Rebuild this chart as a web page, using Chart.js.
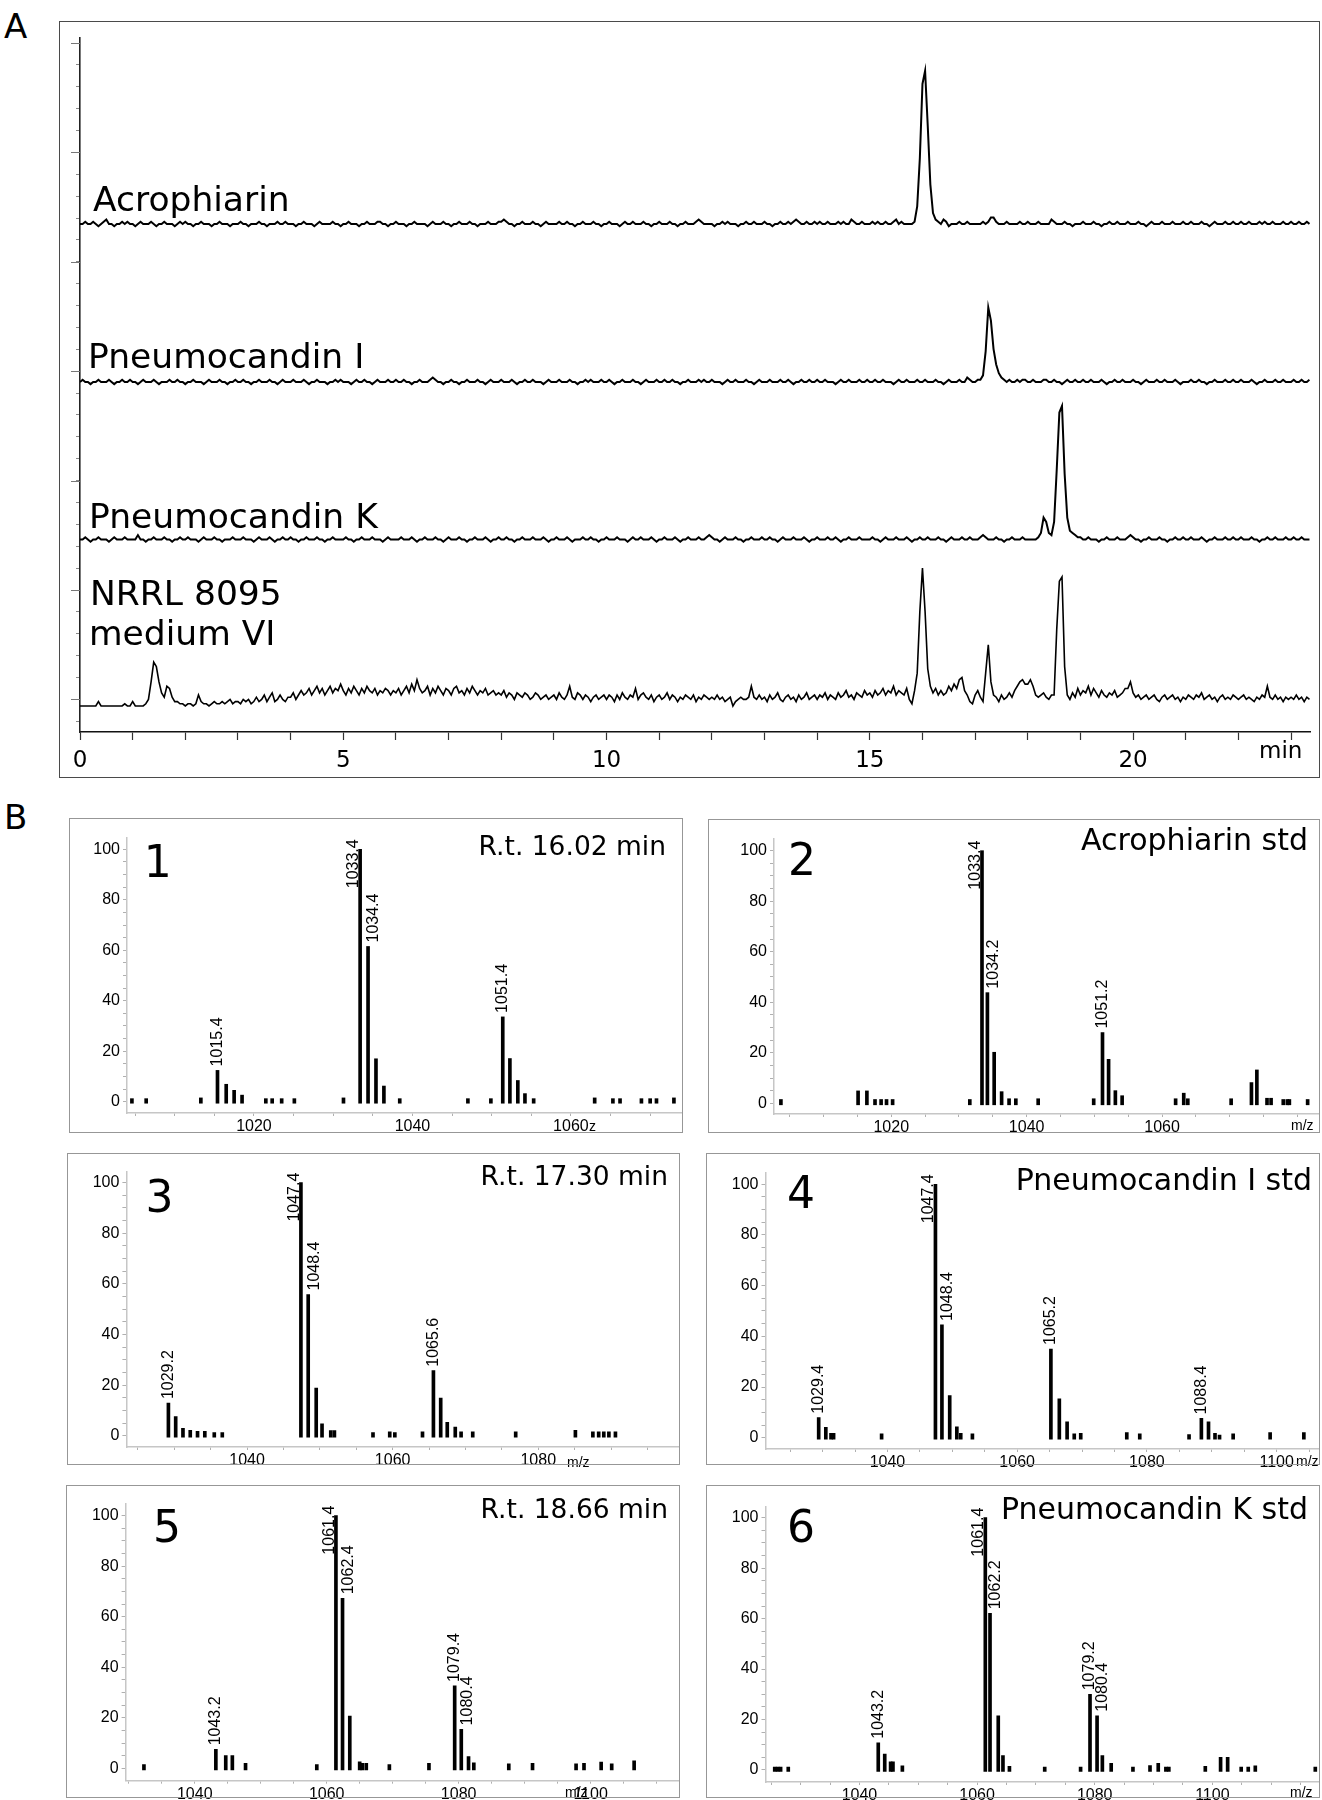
<!DOCTYPE html>
<html>
<head>
<meta charset="utf-8">
<script src="https://cdn.jsdelivr.net/npm/chart.js@4.4.1/dist/chart.umd.min.js"></script>
<style>
  html, body { margin: 0; padding: 0; background: #fff; }
  body { width: 1322px; height: 1800px; position: relative; overflow: hidden; font-family: "DejaVu Sans", sans-serif; }
  canvas { position: absolute; }
  .box { position: absolute; box-sizing: border-box; pointer-events: none; }
  .tag { position: absolute; font-size: 34px; line-height: 34px; color: #000; }
</style>
</head>
<body>
<div class="tag" style="left:4px;top:9px">A</div>
<div class="tag" style="left:4px;top:800px">B</div>

<script>
// ---------------- A: chromatograms (signal sampled every 0.05 min) ----------------
const timeStep = 0.05;

const acrophiarinTrace = [
  0,0,1,0,0,1,0,-1,0,1,2,0,0,-1,0,0,1,0,1,0,
  0,-1,0,1,0,0,0,1,0,-1,0,0,1,0,0,0,-1,0,1,0,
  1,0,0,-1,0,0,1,0,0,0,-1,0,0,1,0,0,0,-1,0,0,
  0,1,0,0,-1,0,0,0,1,0,0,-1,0,0,0,1,0,0,1,0,
  0,0,-1,0,0,1,0,0,0,-1,0,1,0,0,0,0,1,0,0,-1,
  0,0,1,0,0,0,-1,0,0,1,0,0,0,1,1,0,0,-1,0,0,
  1,0,0,0,-1,0,0,1,0,0,0,0,-1,0,1,0,0,0,1,0,
  0,-1,0,0,1,0,0,0,1,0,0,-1,0,0,0,1,0,0,0,1,
  1,2,1,0,0,-1,0,0,1,0,0,0,1,0,0,-1,0,1,0,0,
  0,0,1,0,0,1,0,0,-1,0,0,1,0,0,0,1,0,0,-1,0,
  0,1,0,0,0,-1,0,1,0,0,1,0,0,0,1,0,0,-1,0,0,
  1,0,0,0,1,0,0,-1,0,0,1,0,0,0,1,2,1,0,0,0,
  0,-1,0,0,1,0,1,0,0,0,-1,0,0,1,0,0,1,0,0,0,
  1,0,0,-1,0,0,1,0,0,1,0,1,2,1,0,0,1,0,0,1,
  0,1,0,0,1,0,0,0,1,0,1,0,0,2,1,0,0,1,0,0,
  0,1,0,1,0,0,1,0,0,1,2,0,1,0,0,0,0,1,8,30,
  64,70,45,18,5,2,1,0,2,1,-1,0,0,0,1,0,0,1,0,0,
  0,0,0,1,0,1,3,3,1,0,0,0,1,0,0,0,0,1,0,0,
  1,0,0,0,1,0,0,0,0,2,1,0,0,0,1,0,0,-1,0,0,
  0,1,0,0,0,1,0,0,-1,0,0,1,0,0,1,0,0,0,1,0,
  0,0,1,0,0,-1,0,1,0,0,0,1,0,0,0,1,0,0,0,1,
  0,0,1,0,0,0,1,0,0,-1,0,1,0,0,0,1,0,0,1,0,
  0,1,0,0,1,0,0,0,1,0,1,0,0,1,0,0,0,1,0,0,
  1,0,0,1,0,0,1,0
];

const pneumocandinITrace = [
  0,1,0,0,-1,0,0,1,0,0,0,1,0,-1,0,0,1,0,0,1,
  0,0,-1,0,1,0,0,0,1,0,-1,0,0,0,1,0,0,1,0,0,
  -1,0,0,1,0,0,0,-1,0,1,0,0,0,1,0,0,-1,0,0,1,
  0,0,1,0,0,-1,0,0,1,0,0,0,1,0,0,-1,0,1,0,0,
  0,1,0,0,0,1,0,-1,0,0,1,0,0,0,-1,0,0,1,0,1,
  0,0,0,-1,0,1,0,0,1,0,0,-1,0,1,0,0,0,1,0,0,
  1,0,0,1,0,0,-1,0,0,1,0,0,0,1,2,1,0,0,-1,0,
  0,1,0,0,-1,0,0,1,0,0,0,1,0,0,-1,0,1,0,0,0,
  1,0,0,0,1,0,-1,0,0,1,0,0,1,0,0,0,-1,0,1,0,
  0,0,1,0,0,0,1,0,0,-1,0,0,1,0,1,0,0,0,1,0,
  0,1,0,-1,0,0,1,0,0,0,1,0,0,-1,0,1,0,0,0,1,
  0,0,1,0,0,1,0,0,-1,0,0,1,0,0,0,1,0,1,0,0,
  1,0,0,0,-1,0,1,0,0,1,0,0,0,1,0,0,-1,0,1,0,
  0,0,1,0,0,0,1,0,0,1,0,-1,0,0,1,0,0,1,0,0,
  1,0,0,1,0,0,0,-1,0,1,0,0,1,0,0,0,1,0,0,1,
  0,0,1,0,0,1,0,0,0,-1,0,1,0,0,1,0,0,0,1,0,
  0,1,0,0,0,1,0,0,-1,0,1,0,0,0,1,0,0,2,1,0,
  0,1,1,3,14,34,28,15,8,4,2,1,0,1,0,0,1,0,1,1,
  0,0,1,0,0,0,1,1,0,0,1,0,0,-1,0,1,0,0,1,0,
  0,1,0,0,1,0,0,0,1,0,-1,0,0,1,0,0,1,0,0,0,
  1,0,0,-1,0,1,0,0,0,1,0,0,1,0,0,0,1,0,-1,0,
  0,0,1,0,0,1,0,0,-1,0,0,1,0,0,0,1,0,0,1,0,
  0,1,0,0,0,1,0,-1,0,0,1,0,0,0,1,0,0,1,0,0,
  0,1,0,0,1,0,0,1
];

const pneumocandinKTrace = [
  0,0,1,0,-1,0,0,1,0,0,0,-1,0,1,0,0,0,1,0,0,
  0,0,2,0,0,-1,0,0,1,0,0,0,1,0,0,-1,0,0,1,0,
  0,1,0,0,0,-1,0,1,0,0,0,1,0,0,-1,0,0,0,1,0,
  0,0,1,0,0,0,-1,0,1,0,0,0,1,0,-1,0,0,1,0,0,
  1,0,0,-1,0,0,1,0,0,0,1,0,0,-1,0,0,1,0,0,0,
  0,1,0,0,-1,0,0,1,0,0,0,1,0,0,0,-1,0,1,0,0,
  0,0,1,0,0,0,1,0,-1,0,0,1,0,0,0,1,0,0,-1,0,
  1,0,0,0,1,0,0,-1,0,0,1,0,0,0,1,0,-1,0,0,1,
  0,0,1,0,0,-1,0,0,1,0,0,0,1,0,0,0,1,0,-1,0,
  0,1,0,0,0,1,0,-1,0,0,0,1,0,0,1,0,0,-1,0,0,
  1,0,0,0,1,0,0,0,-1,0,1,0,0,1,0,0,0,1,0,-1,
  0,0,1,0,0,0,1,0,-1,0,0,1,0,0,0,1,0,0,1,2,
  1,0,0,-1,0,1,0,0,0,1,0,0,-1,0,0,1,0,0,0,1,
  0,0,1,0,0,-1,0,1,0,0,0,1,0,0,0,1,0,-1,0,0,
  1,0,0,0,1,0,0,1,0,-1,0,0,1,0,0,0,1,0,0,0,
  0,1,0,0,-1,0,1,0,0,0,1,0,0,0,1,0,-1,0,0,1,
  0,0,1,0,0,0,1,0,0,-1,0,1,0,0,0,1,0,0,1,0,
  0,0,1,2,1,0,0,0,1,0,0,-1,0,0,1,0,0,0,1,0,
  0,0,0,0,1,3,10,8,3,2,8,32,58,61,30,10,4,3,2,1,
  1,0,0,1,0,0,0,-1,0,0,1,0,0,0,1,0,0,0,1,2,
  1,0,0,-1,0,0,1,0,0,0,1,0,0,-1,0,0,1,0,0,1,
  0,0,1,0,0,0,1,0,-1,0,0,1,0,0,0,1,0,0,1,0,
  0,1,0,0,0,1,0,0,-1,0,0,1,0,0,1,0,0,0,1,0,
  0,1,0,0,1,0,0,0
];

const nrrlTrace = [
  7,7,7,7,7,7,7,9,7,7,7,7,7,7,7,7,7,8,7,7,
  9,7,7,7,7,8,10,18,27,25,18,13,11,16,15,11,9,9,8,8,
  7,8,8,7,8,12,9,8,8,7,8,9,8,8,9,8,9,10,8,9,
  9,8,10,9,10,8,9,11,9,10,12,9,11,13,9,10,12,10,9,11,
  11,13,10,12,14,12,13,15,12,14,16,13,15,12,14,16,13,15,14,17,
  14,12,15,13,16,14,12,15,13,16,14,13,15,12,14,13,15,14,12,14,
  13,15,12,14,16,13,17,14,19,15,13,14,16,12,15,13,16,14,12,15,
  14,12,15,16,13,14,12,15,13,16,14,12,14,13,15,12,13,14,12,13,
  12,14,11,13,12,10,13,12,11,13,12,10,11,13,12,10,11,12,10,11,
  12,10,13,11,10,12,16,11,10,13,12,10,12,11,9,11,12,10,11,12,
  10,12,11,9,12,10,13,11,10,12,11,15,10,12,13,11,10,12,9,11,
  12,10,11,13,10,12,11,9,11,10,12,11,10,12,9,11,10,12,11,10,
  11,10,12,10,11,9,10,11,7,9,10,11,10,10,11,16,11,10,12,10,
  11,9,12,10,11,13,10,9,11,12,10,11,9,12,10,11,13,10,11,12,
  10,12,11,13,10,12,11,10,13,11,12,14,11,12,10,13,12,11,14,12,
  13,11,14,12,13,15,12,14,13,16,12,14,13,12,15,10,8,14,22,50,
  70,50,24,16,13,15,12,14,12,13,16,14,17,15,19,20,14,12,9,8,
  12,14,11,9,22,35,18,12,11,9,12,10,11,13,11,14,16,18,19,17,
  17,19,16,12,11,12,13,11,10,12,12,42,64,66,25,12,10,13,11,15,
  12,14,13,16,12,15,13,11,14,12,11,13,12,14,11,12,13,15,15,18,
  13,11,12,10,11,12,10,11,12,10,9,11,12,10,11,12,10,11,9,11,
  10,12,11,10,12,11,13,10,11,12,10,11,9,11,12,10,11,10,12,11,
  10,11,12,10,11,10,9,11,10,12,11,16,11,10,12,10,11,9,11,10,
  11,10,12,10,11,9,11,10
];

const traceNames = ['Acrophiarin', 'Pneumocandin I', 'Pneumocandin K', 'NRRL 8095', 'medium VI'];
const timeLabels = [0, 5, 10, 15, 20];
const chromoMajorTicks = [10, 60, 110, 160, 210, 260, 310];

// ---------------- B: mass spectra ----------------
const spec1Mz = [1004.6, 1006.4, 1013.3, 1015.4, 1016.5, 1017.5, 1018.5, 1021.5, 1022.3, 1023.5, 1025.1, 1031.3,
  1033.4, 1034.4, 1035.4, 1036.4, 1038.4, 1047.0, 1049.9, 1051.4, 1052.3, 1053.3, 1054.2, 1055.3,
  1063.0, 1065.3, 1066.2, 1068.9, 1070.0, 1070.8, 1073.0];
const spec1Int = [1.2, 1.2, 1.5, 12.4, 6.9, 4.5, 2.6, 1.2, 1.2, 1.2, 1.2, 1.5,
  100, 61.5, 17, 6.2, 1.2, 1.2, 1.2, 33.6, 17.1, 8.4, 3.2, 1.2,
  1.5, 1.2, 1.2, 1.2, 1.2, 1.2, 1.5];
const spec1Peaks = [1015.4, 1033.4, 1034.4, 1051.4];

const spec2Mz = [1003.7, 1015.1, 1016.4, 1017.6, 1018.5, 1019.3, 1020.2, 1031.6, 1033.4, 1034.2, 1035.2, 1036.3,
  1037.4, 1038.4, 1041.7, 1049.9, 1051.2, 1052.1, 1053.1, 1054.1, 1062.0, 1063.2, 1063.8, 1070.2,
  1073.2, 1074.0, 1075.5, 1076.1, 1077.9, 1078.5, 1078.8, 1081.5];
const spec2Int = [1.5, 4.9, 4.9, 1.5, 1.5, 1.5, 1.5, 1.5, 100, 43.8, 20.2, 4.6,
  1.8, 1.8, 1.8, 1.8, 28, 17.4, 5, 3, 1.8, 4, 1.8, 1.8,
  8.2, 13.2, 2, 2, 1.5, 1.5, 1.5, 1.5];
const spec2Peaks = [1033.4, 1034.2, 1051.2];

const spec3Mz = [1029.2, 1030.2, 1031.2, 1032.2, 1033.2, 1034.2, 1035.5, 1036.6, 1047.4, 1048.4, 1049.5, 1050.3,
  1051.5, 1052.0, 1057.3, 1059.6, 1060.3, 1064.1, 1065.6, 1066.6, 1067.5, 1068.6, 1069.4, 1071.0,
  1076.9, 1085.1, 1087.5, 1088.3, 1089.0, 1089.7, 1090.6];
const spec3Int = [12.9, 7.6, 2.9, 2.1, 1.7, 1.7, 1.2, 1.2, 100, 55.8, 18.8, 4.7,
  2, 2, 1.2, 1.5, 1.2, 1.5, 25.7, 14.9, 5.3, 3.4, 1.5, 1.5,
  1.5, 2.1, 1.5, 1.5, 1.5, 1.5, 1.5];
const spec3Peaks = [1029.2, 1047.4, 1048.4, 1065.6];

const spec4Mz = [1029.4, 1030.5, 1031.3, 1031.7, 1039.1, 1047.4, 1048.4, 1049.6, 1050.7, 1051.3, 1053.1, 1065.2,
  1066.5, 1067.7, 1068.8, 1069.8, 1076.9, 1078.9, 1086.5, 1088.4, 1089.5, 1090.5, 1091.2, 1093.3,
  1099.0, 1104.2];
const spec4Int = [7.9, 4.1, 1.7, 1.7, 1.5, 100, 44.5, 16.6, 4.3, 1.7, 1.5, 35,
  15.3, 6.3, 1.5, 1.7, 2, 1.5, 1.2, 7.6, 6.3, 1.7, 1, 1.5,
  2, 2];
const spec4Peaks = [1029.4, 1047.4, 1048.4, 1065.2, 1088.4];

const spec5Mz = [1032.3, 1043.2, 1044.7, 1045.7, 1047.7, 1058.5, 1061.4, 1062.4, 1063.5, 1065.0, 1065.4, 1066.0,
  1069.5, 1075.5, 1079.4, 1080.4, 1081.5, 1082.3, 1087.6, 1091.2, 1097.8, 1099.0, 1101.6, 1103.2,
  1106.6];
const spec5Int = [1.5, 7.5, 5, 5, 2, 1.5, 100, 67.3, 20.7, 2.6, 2, 2,
  1.5, 2, 32.6, 15.4, 4.6, 2.2, 1.8, 2, 1.8, 2, 2.5, 1.8,
  3];
const spec5Peaks = [1043.2, 1061.4, 1062.4, 1079.4, 1080.4];

const spec6Mz = [1025.6, 1026.1, 1026.6, 1027.9, 1043.2, 1044.3, 1045.3, 1045.7, 1047.3, 1061.4, 1062.2, 1063.6,
  1064.4, 1065.5, 1071.5, 1077.6, 1079.2, 1080.4, 1081.3, 1082.8, 1086.5, 1089.4, 1090.8, 1092.1,
  1092.6, 1098.8, 1101.4, 1102.6, 1104.9, 1106.1, 1107.3, 1117.5];
const spec6Int = [1.2, 1.2, 1.2, 1.2, 10.8, 6.3, 3.2, 3.2, 1.6, 100, 62.1, 21.5,
  5.7, 1.5, 1.2, 1.2, 30, 21.5, 5.7, 2.6, 1.2, 1.7, 2.6, 1.2,
  1.2, 1.5, 5, 5, 1.2, 1.2, 1.6, 1.2];
const spec6Peaks = [1043.2, 1061.4, 1062.2, 1079.2, 1080.4];

const specTitles = ['R.t. 16.02 min', 'Acrophiarin std', 'R.t. 17.30 min',
  'Pneumocandin I std', 'R.t. 18.66 min', 'Pneumocandin K std'];

// ---------------- layout (page pixels) ----------------
const traceOffsets = [227.3, 155.1, 83.1, 0];
const traceWidths = [2, 2, 2, 1.6];
const nameAt = [[93, 211], [88, 368], [89, 528], [90, 605], [89, 645]];

const chromoBox = { left: 59, top: 21, right: 1320, bottom: 778 };
const chromoPlot = { left: 80, top: 38, right: 1310, bottom: 732 };

const spectra = [
  { mz: spec1Mz, int: spec1Int, peaks: spec1Peaks, num: '1', title: specTitles[0], titleSize: 26.5, axisTitle: 'z',
    box: [69, 818, 683, 1133], plot: [127, 838, 682, 1113], xr: [1003.98, 1074.02], yr: [-4.48, 104.48],
    numAt: [143.7, 877], titleAt: [666, 855], axisAt: [589, 1131] },
  { mz: spec2Mz, int: spec2Int, peaks: spec2Peaks, num: '2', title: specTitles[1], titleSize: 30, axisTitle: 'm/z',
    box: [708, 819, 1320, 1133], plot: [774, 839, 1318, 1114], xr: [1002.68, 1083.03], yr: [-4.24, 104.63],
    numAt: [788, 875], titleAt: [1308, 850], axisAt: [1291, 1130] },
  { mz: spec3Mz, int: spec3Int, peaks: spec3Peaks, num: '3', title: specTitles[2], titleSize: 26.5, axisTitle: 'm/z',
    box: [67, 1153, 680, 1465], plot: [126.4, 1172, 679, 1447], xr: [1023.43, 1099.33], yr: [-4.46, 104.22],
    numAt: [145.5, 1212], titleAt: [668, 1185], axisAt: [567, 1467] },
  { mz: spec4Mz, int: spec4Int, peaks: spec4Peaks, num: '4', title: specTitles[3], titleSize: 30, axisTitle: 'm/z',
    box: [706, 1153, 1320, 1465], plot: [765.5, 1173, 1318, 1449], xr: [1021.2, 1106.38], yr: [-4.46, 104.46],
    numAt: [787, 1208], titleAt: [1312, 1190], axisAt: [1296, 1466] },
  { mz: spec5Mz, int: spec5Int, peaks: spec5Peaks, num: '5', title: specTitles[4], titleSize: 26.5, axisTitle: 'm/z',
    box: [66, 1485, 680, 1798], plot: [125.6, 1504, 679, 1780.7], xr: [1029.52, 1113.4], yr: [-4.91, 104.63],
    numAt: [153, 1542], titleAt: [668, 1518], axisAt: [565, 1797] },
  { mz: spec6Mz, int: spec6Int, peaks: spec6Peaks, num: '6', title: specTitles[5], titleSize: 30, axisTitle: 'm/z',
    box: [706, 1485, 1320, 1798], plot: [765.5, 1507, 1318, 1782], xr: [1024.03, 1117.96], yr: [-4.76, 104.24],
    numAt: [787, 1542], titleAt: [1308, 1519], axisAt: [1290, 1797] },
];

Chart.defaults.color = '#000';

function addCanvas(left, top, w, h) {
  const c = document.createElement('canvas');
  c.width = w; c.height = h;
  c.style.left = left + 'px'; c.style.top = top + 'px';
  document.body.appendChild(c);
  return c;
}

function addBox(left, top, right, bottom, border) {
  const d = document.createElement('div');
  d.className = 'box';
  d.style.left = left + 'px'; d.style.top = top + 'px';
  d.style.width = (right - left) + 'px'; d.style.height = (bottom - top) + 'px';
  d.style.border = border;
  document.body.appendChild(d);
}

//CHROMATOGRAMS

function crearCromatograma() {
  const b = chromoBox, p = chromoPlot;
  const w = b.right - b.left, h = b.bottom - b.top;
  const canvas = addCanvas(b.left, b.top, w, h);
  const traces = [acrophiarinTrace, pneumocandinITrace, pneumocandinKTrace, nrrlTrace];

  const chromoText = {
    id: 'chromoText',
    afterDraw(chart) {
      const ctx = chart.ctx, ys = chart.scales.y, area = chart.chartArea;
      ctx.save();
      ctx.strokeStyle = '#777';
      ctx.lineWidth = 1;
      chromoMajorTicks.forEach((v) => {
        const y = Math.round(ys.getPixelForValue(v)) + 0.5;
        ctx.beginPath();
        ctx.moveTo(area.left - 9, y);
        ctx.lineTo(area.left, y);
        ctx.stroke();
      });
      ctx.fillStyle = '#000';
      ctx.font = '34.5px "DejaVu Sans"';
      ctx.textBaseline = 'alphabetic';
      traceNames.forEach((name, i) => {
        ctx.fillText(name, nameAt[i][0] - b.left, nameAt[i][1] - b.top);
      });
      ctx.font = '23px "DejaVu Sans"';
      ctx.fillText('min', 1259 - b.left, 758 - b.top);
      ctx.restore();
    }
  };

  new Chart(canvas, {
    type: 'line',
    data: {
      datasets: traces.map((vals, i) => ({
        data: vals.map((v, j) => ({ x: j * timeStep, y: v + traceOffsets[i] })),
        borderColor: '#000',
        borderWidth: traceWidths[i],
        pointRadius: 0,
        tension: 0,
        fill: false,
      })),
    },
    options: {
      responsive: false,
      animation: false,
      layout: { padding: { top: p.top - b.top, right: b.right - p.right, left: 0, bottom: 0 } },
      plugins: { legend: { display: false }, tooltip: { enabled: false } },
      scales: {
        x: {
          type: 'linear', min: 0, max: 23.36,
          ticks: {
            stepSize: 1, includeBounds: false, autoSkip: false, maxRotation: 0, maxTicksLimit: 1000,
            padding: 7.5, color: '#000', font: { family: 'DejaVu Sans', size: 23 },
            callback: (v) => (timeLabels.includes(v) ? String(v) : ''),
          },
          grid: { drawOnChartArea: false, tickLength: 8, tickColor: '#333', tickWidth: 1.2 },
          border: { color: '#111', width: 1.6 },
          afterFit: (s) => { s.height = b.bottom - p.bottom; },
        },
        y: {
          type: 'linear', min: -4.9, max: 312.3,
          ticks: {
            stepSize: 10, includeBounds: false, autoSkip: false, maxTicksLimit: 1000,
            callback: () => '',
          },
          grid: { drawOnChartArea: false, tickLength: 4, tickColor: '#888', tickWidth: 1 },
          border: { color: '#222', width: 1.6 },
          afterFit: (s) => { s.width = p.left - b.left; },
        },
      },
    },
    plugins: [chromoText],
  });

  addBox(b.left, b.top, b.right, b.bottom, '1.6px solid #4a4a4a');
}

//MASS SPECTRA

function drawSpectrumText(chart, sp) {
  const ctx = chart.ctx, xs = chart.scales.x, ys = chart.scales.y;
  const bl = sp.box[0], bt = sp.box[1];
  ctx.save();
  ctx.fillStyle = '#000';
  ctx.textBaseline = 'alphabetic';

  ctx.font = '44px "DejaVu Sans"';
  ctx.textAlign = 'left';
  ctx.fillText(sp.num, sp.numAt[0] - bl, sp.numAt[1] - bt);

  ctx.font = sp.titleSize + 'px "DejaVu Sans"';
  ctx.textAlign = 'right';
  ctx.fillText(sp.title, sp.titleAt[0] - bl, sp.titleAt[1] - bt);

  ctx.font = '14px "Liberation Sans"';
  ctx.textAlign = 'left';
  ctx.fillText(sp.axisTitle, sp.axisAt[0] - bl, sp.axisAt[1] - bt);

  // peak labels, rotated
  ctx.font = '16px "Liberation Sans"';
  sp.peaks.forEach((m) => {
    const i = sp.mz.indexOf(m);
    const v = sp.int[i];
    const x = xs.getPixelForValue(m);
    const top = ys.getPixelForValue(v);
    const text = m.toFixed(1);
    const w = ctx.measureText(text).width;
    ctx.save();
    if (v >= 90) {
      ctx.translate(x - 2, top - 10 + w);
      ctx.textBaseline = 'alphabetic';
    } else {
      const crowded = sp.mz.some((m2, j) => m2 < m && m - m2 < 1.3 && sp.int[j] > v);
      ctx.translate(x + (crowded ? 6 : 0), top - 4);
      ctx.textBaseline = 'middle';
    }
    ctx.rotate(-Math.PI / 2);
    ctx.textAlign = 'left';
    ctx.fillText(text, 0, 0);
    ctx.restore();
  });
  ctx.restore();
}

function crearEspectro(sp) {
  const [bl, bt, br, bb] = sp.box;
  const [pl, pt, pr, pb] = sp.plot;
  const extra = 12; // labels hang slightly below the frame
  const canvas = addCanvas(bl, bt, br - bl, bb - bt + extra);
  const axisFont = { family: 'Liberation Sans', size: 16 };

  new Chart(canvas, {
    type: 'bar',
    data: {
      datasets: [{
        data: sp.mz.map((m, i) => ({ x: m, y: sp.int[i] })),
        backgroundColor: '#000',
        borderWidth: 0,
        barThickness: 3,
        base: -0.6,
      }],
    },
    options: {
      responsive: false,
      animation: false,
      layout: { padding: { top: pt - bt, right: br - pr, left: 0, bottom: 0 } },
      plugins: { legend: { display: false }, tooltip: { enabled: false } },
      scales: {
        x: {
          type: 'linear', min: sp.xr[0], max: sp.xr[1], offset: false,
          ticks: {
            stepSize: 5, includeBounds: false, autoSkip: false, maxRotation: 0, maxTicksLimit: 1000,
            padding: 1, color: '#000', font: axisFont,
            // labels every 20; none right at the end of the axis, where m/z sits
            callback: function (v) {
              const pxPerUnit = (pr - pl) / (sp.xr[1] - sp.xr[0]);
              if (v % 20 !== 0 || (sp.xr[1] - v) * pxPerUnit < 30) return '';
              return String(v);
            },
          },
          grid: { drawOnChartArea: false, offset: false, tickLength: 3, tickColor: '#b0b0b0', tickWidth: 1 },
          border: { color: '#c6c6c6', width: 1.5 },
          afterFit: (s) => { s.height = bb - pb + extra; },
        },
        y: {
          type: 'linear', min: sp.yr[0], max: sp.yr[1],
          ticks: {
            stepSize: 5, includeBounds: false, autoSkip: false, maxTicksLimit: 1000,
            padding: 3, color: '#000', font: axisFont,
            callback: (v) => (v % 20 === 0 ? String(v) : ''),
          },
          grid: { drawOnChartArea: false, tickLength: 4, tickColor: '#b0b0b0', tickWidth: 1 },
          border: { color: '#c6c6c6', width: 1.5 },
          afterFit: (s) => { s.width = pl - bl; },
        },
      },
    },
    plugins: [{ id: 'specText', afterDraw: (chart) => drawSpectrumText(chart, sp) }],
  });

  addBox(bl, bt, br, bb, '1.5px solid #979797');
}

crearCromatograma();
spectra.forEach(crearEspectro);
</script>
</body>
</html>
